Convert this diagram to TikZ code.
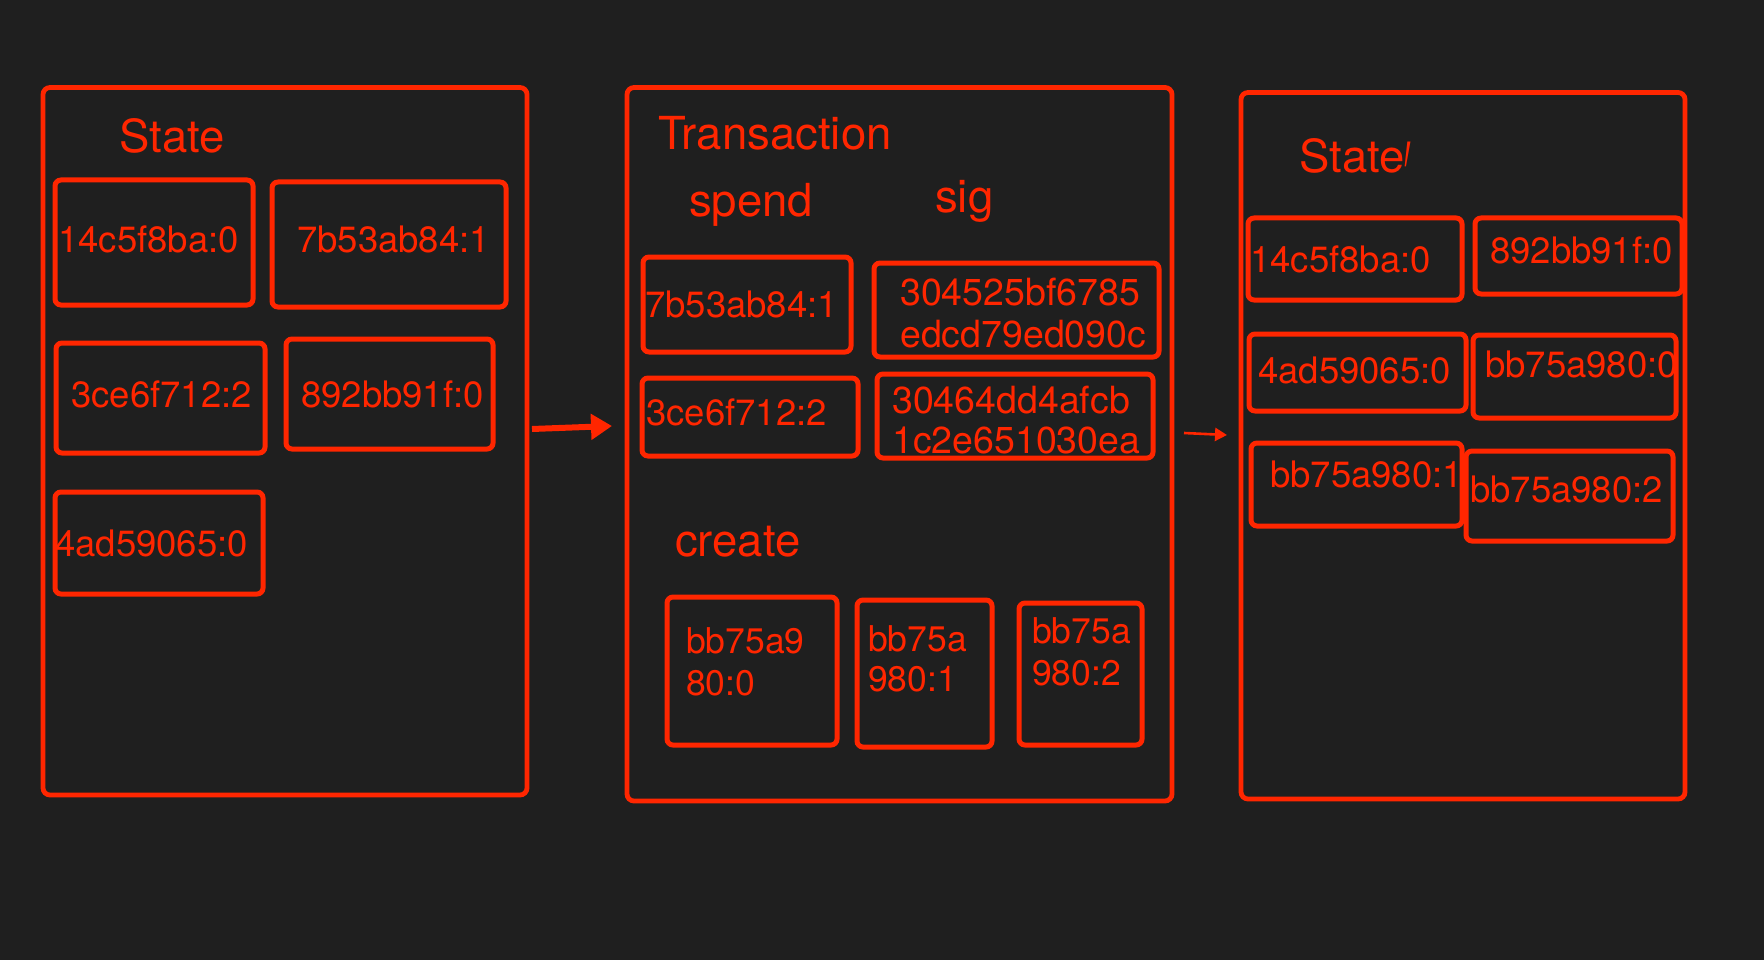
\documentclass[tikz,border=0pt]{standalone}
\usepackage{fontspec}
\setmainfont{TeX Gyre Heros}
\newfontfamily\djv{DejaVu Sans}
\usetikzlibrary{arrows.meta}
\definecolor{bg}{RGB}{31,31,31}
\definecolor{rd}{RGB}{255,38,0}
\newcommand\bx[6][ibox]{\node[#1, minimum width={(#5-#3)*1pt}, minimum height={(#6-#4)*1pt}] (#2) at ({(#3+#5)/2},{(#4+#6)/2}) {};}
\newcommand\tallprime{\raisebox{-1.5em}[0.75em][0pt]{\scalebox{0.7}[3.0]{\djv ′}}}
\begin{document}
\begin{tikzpicture}[x=1pt,y=-1pt,
 obox/.style={draw=rd, line width=4.8pt, rounded corners=7pt, inner sep=0pt, outer sep=0pt},
 ibox/.style={draw=rd, line width=5pt, rounded corners=6pt, inner sep=0pt, outer sep=0pt},
 hd/.style={text=rd, anchor=base west, inner sep=0pt, font=\fontsize{45.5pt}{52pt}\selectfont},
 lbl/.style={text=rd, anchor=base west, inner sep=0pt, font=\fontsize{36.5pt}{42pt}\selectfont},
 slbl/.style={text=rd, anchor=base west, inner sep=0pt, font=\fontsize{37.5pt}{42pt}\selectfont},
 clbl/.style={text=rd, anchor=base west, inner sep=0pt, font=\fontsize{35.5pt}{42pt}\selectfont},
 bigarrow/.style={draw=rd, line width=6pt, -{Triangle[length=21pt,width=25pt]}},
 smallarrow/.style={draw=rd, line width=2.6pt, -{Triangle[length=12pt,width=13pt]}},
]
\fill[bg] (0,0) rectangle (1764,960);
\useasboundingbox (0,0) rectangle (1764,960);

% outer boxes
\bx[obox]{state}{43}{87.5}{527}{795}
\bx[obox]{trans}{627}{87.5}{1172}{801}
\bx[obox]{statep}{1241}{92.5}{1685}{799}

% headings
\node[hd] (hstate) at (119,153) {State};
\node[hd] (htrans) at (658,150) {Transaction};
\node[hd] (hspend) at (689,217) {spend};
\node[hd] (hsig) at (935,213) {sig};
\node[hd] (hcreate) at (675,556) {create};
\node[hd] (hstatep) at (1299,173) {State\tallprime};

% State boxes
\bx{s1}{55}{180}{253}{305}
\bx{s2}{272}{182}{506}{307}
\bx{s3}{56}{343}{265}{453}
\bx{s4}{286}{339}{493}{449}
\bx{s5}{55}{492}{263}{594}
\node[lbl] (ls1) at (58,252) {14c5f8ba:0};
\node[lbl] (ls2) at (297,252) {7b53ab84:1};
\node[lbl] (ls3) at (71,407) {3ce6f712:2};
\node[lbl] (ls4) at (301,407) {892bb91f:0};
\node[lbl] (ls5) at (55,556) {4ad59065:0};

% Transaction boxes
\bx{t1}{643}{257}{851}{352}
\bx{g1}{874}{263}{1159}{357}
\bx{t2}{642}{378}{858}{456}
\bx{g2}{877}{374}{1153}{458}
\node[lbl] (lt1) at (645,317) {7b53ab84:1};
\node[slbl] (lg1a) at (900,305) {304525bf6785};
\node[slbl] (lg1b) at (900,347) {edcd79ed090c};
\node[lbl] (lt2) at (646,425) {3ce6f712:2};
\node[slbl] (lg2a) at (892,413) {30464dd4afcb};
\node[slbl] (lg2b) at (892,453) {1c2e651030ea};

\bx{c1}{667}{597}{837}{745}
\bx{c2}{857}{600}{992}{747}
\bx{c3}{1019}{603}{1142}{745}
\node[clbl] (lc1a) at (686,653) {bb75a9};
\node[clbl] (lc1b) at (686,695) {80:0};
\node[clbl] (lc2a) at (868,651) {bb75a};
\node[clbl] (lc2b) at (868,691) {980:1};
\node[clbl] (lc3a) at (1032,643) {bb75a};
\node[clbl] (lc3b) at (1032,685) {980:2};

% State' boxes
\bx{r1}{1248}{218}{1462}{300}
\bx{r2}{1475}{218}{1682}{294}
\bx{r3}{1249}{334}{1466}{411}
\bx{r4}{1473}{335}{1676}{418}
\bx{r5}{1251}{443}{1462}{526}
\bx{r6}{1466}{451}{1673}{541}
\node[lbl] (lr1) at (1250,272) {14c5f8ba:0};
\node[lbl] (lr2) at (1490,263) {892bb91f:0};
\node[lbl] (lr3) at (1258,383) {4ad59065:0};
\node[lbl] (lr4) at (1485,377) {bb75a980:0};
\node[lbl] (lr5) at (1270,487) {bb75a980:1};
\node[lbl] (lr6) at (1470,502) {bb75a980:2};

% arrows
\coordinate (a1s) at (532,429);
\coordinate (a1e) at (612,426);
\coordinate (a2s) at (1184,433);
\coordinate (a2e) at (1227,435);
\draw[bigarrow] (a1s) -- (a1e);
\draw[smallarrow] (a2s) -- (a2e);
\end{tikzpicture}
\end{document}
